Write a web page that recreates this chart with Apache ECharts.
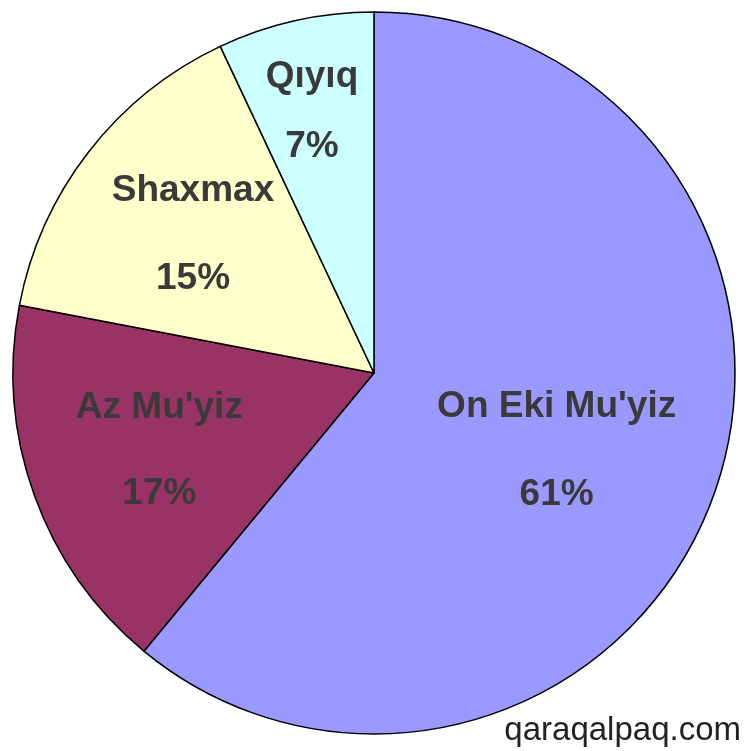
<!DOCTYPE html>
<html>
<head>
<meta charset="utf-8">
<script src="https://cdn.jsdelivr.net/npm/echarts@6/dist/echarts.min.js"></script>
<style>
html,body{margin:0;padding:0;background:#fff;}
#chart{width:750px;height:751px;}
</style>
</head>
<body>
<div id="chart"></div>
<script>
const categories = ["On Eki Mu'yiz", "Az Mu'yiz", "Shaxmax", "Qıyıq"];
const values = [61, 17, 15, 7];
const colors = ['#9999ff', '#993366', '#ffffcc', '#ccffff'];
// label centre offsets relative to default inside position (styling)
const labelShift = [[10, 16], [-42, 16], [-36, -26], [-22, -82]];
const labelLineHeights = [88, 86, 88, 70];

const chart = echarts.init(document.getElementById('chart'));
const data = categories.map((name, i) => ({
  name: name,
  value: values[i],
  itemStyle: { color: colors[i] },
  label: { lineHeight: labelLineHeights[i] }
}));

chart.setOption({
  animation: false,
  series: [{
    type: 'pie',
    center: [374, 373],
    radius: [0, 361],
    startAngle: 90,
    clockwise: true,
    data: data,
    itemStyle: { borderColor: '#000', borderWidth: 1.5 },
    label: {
      show: true,
      position: 'inside',
      formatter: '{b}\n{c}%',
      fontFamily: 'Liberation Sans, Arial, sans-serif',
      fontSize: 37,
      fontWeight: 'bold',
      color: '#3a3a3a',
      align: 'center'
    },
    labelLine: { show: false },
    labelLayout: function (params) {
      const s = labelShift[params.dataIndex];
      return { dx: s[0], dy: s[1] };
    },
    emphasis: { disabled: true }
  }],
  graphic: [{
    type: 'text',
    right: 9,
    bottom: 4,
    style: {
      text: 'qaraqalpaq.com',
      fontFamily: 'Liberation Sans, Arial, sans-serif',
      fontSize: 33,
      fill: '#222'
    }
  }]
});
</script>
</body>
</html>
